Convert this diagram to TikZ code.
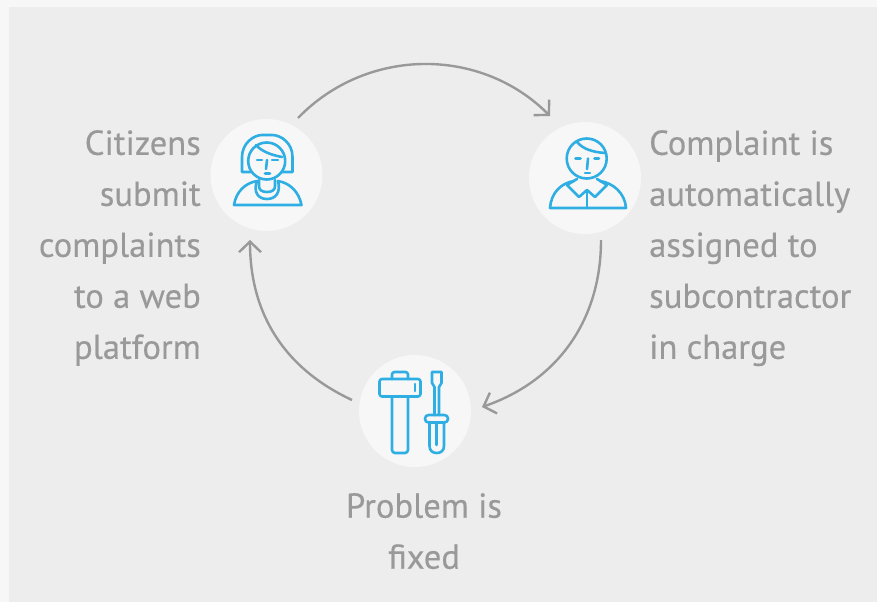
\documentclass[tikz,border=0pt]{standalone}
\usepackage{fontspec}
\setmainfont[FakeBold=0.3]{PT Sans}
\usetikzlibrary{arrows.meta}
\definecolor{panelgray}{HTML}{EDEDED}
\definecolor{pagegray}{HTML}{F7F7F7}
\definecolor{arcgray}{HTML}{999999}
\definecolor{iconblue}{HTML}{2FAEE3}
\begin{document}
\begin{tikzpicture}[x=1pt, y=-1pt,
	badge/.style={circle, fill=pagegray, minimum size=112pt, inner sep=0pt},
	caption/.style={text=arcgray, font=\fontsize{34.6}{51}\selectfont, inner sep=0pt},
	arr/.style={-{Straight Barb[length=10.5pt, width=22pt]}, line width=2.4pt, draw=arcgray},
	icon/.style={draw=iconblue, line width=2.6pt, line join=round, line cap=round}]

	\fill [pagegray] (0,0) rectangle (877,602);
	\fill [panelgray] (9,7) rectangle (877,602);

	\node [badge] (citizen) at (266.5,175) {};
	\node [badge] (contractor) at (585,178) {};
	\node [badge] (repair) at (415,411) {};

	\node [caption, align=right, anchor=north east] (citizentext) at (201,130) {Citizens\\submit\\complaints\\to a web\\platform};
	\node [caption, align=left, anchor=north west] (contractortext) at (649,130) {Complaint is\\automatically\\assigned to\\subcontractor\\in charge};
	\node [caption, align=center, anchor=north] (repairtext) at (424,493) {Problem is\\fixed};

	\coordinate (arcastart) at (298,118);
	\coordinate (arcaend) at (550,116);
	\coordinate (arcbstart) at (601,240);
	\coordinate (arcbend) at (482,407);
	\coordinate (arccstart) at (352,400);
	\coordinate (arccend) at (250,240);
	\draw [arr] (arcastart) to[bend left=45.5] (arcaend);
	\draw [arr] (arcbstart) to[bend left=35.5] (arcbend);
	\draw [arr] (arccstart) to[bend left=32.5] (arccend);

	% woman
	\draw [icon] (251,172) -- (242,172) -- (242,157) .. controls (242,143) and (254,135) .. (262,135) -- (272,135) .. controls (281,135) and (292.5,143) .. (292.5,157) -- (292.5,172) -- (282,172);
	\draw [icon] (266.7,161) circle [radius=18.5];
	\draw [icon] (256,145) .. controls (261,151) and (271,155) .. (282,157);
	\draw [icon] (257,160) -- (262,160) (272,160) -- (278,160);
	\draw [icon] (267,160) -- (266,169);
	\draw [icon] (265,173.5) -- (270,173.5);
	\draw [icon] (234,205) .. controls (236,192) and (245,183) .. (257,181) .. controls (253,192) and (258,199) .. (267,199) .. controls (276,199) and (281,192) .. (278,181) .. controls (290,183) and (299,192) .. (301.5,205) -- cycle;
	\draw [icon] (259,180) -- (259,186) .. controls (259,190) and (262,192) .. (267,192) .. controls (272,192) and (275,190) .. (275,186) -- (275,180);

	% man
	\draw [icon] (586.7,158.5) circle [radius=20];
	\draw [icon] (577,142) .. controls (583,149) and (592,152) .. (605,153);
	\draw [icon] (575.5,158.5) -- (580.5,158.5) (594.5,158.5) -- (599,158.5);
	\draw [icon] (588,158.5) -- (587,169);
	\draw [icon] (585,173) -- (590,173);
	\draw [icon] (574,181) .. controls (561,183) and (551,193) .. (550,208) -- (626,208) .. controls (625,193) and (613,183) .. (600,181);
	\draw [icon] (577,179) -- (567,185) -- (579,197) -- (587,190) -- (595,197) -- (607,185) -- (597,179);
	\draw [icon] (587,190) -- (587,208);

	% hammer
	\draw [icon, rounded corners=2.5pt] (379.5,379) rectangle (420.5,396.5);
	\draw [icon, rounded corners=2.5pt] (392,379) -- (392,372) -- (408,372) -- (408,379);
	\draw [icon, rounded corners=3pt] (392,396.5) -- (392,453) -- (408,453) -- (408,396.5);
	\draw [icon] (415,384) -- (415,391);

	% screwdriver
	\draw [icon] (434.5,415) -- (434.5,387) -- (432,383) -- (432,372) -- (441.5,372) -- (441.5,383) -- (439,387) -- (439,415);
	\draw [icon, rounded corners=3.5pt] (425,415) rectangle (448,422.5);
	\draw [icon] (429.5,422.5) -- (429.5,446) .. controls (429.5,451) and (433,453) .. (436.7,453) .. controls (440.5,453) and (444,451) .. (444,446) -- (444,422.5);
	\draw [icon] (436.7,422.5) -- (436.7,445);
\end{tikzpicture}
\end{document}
